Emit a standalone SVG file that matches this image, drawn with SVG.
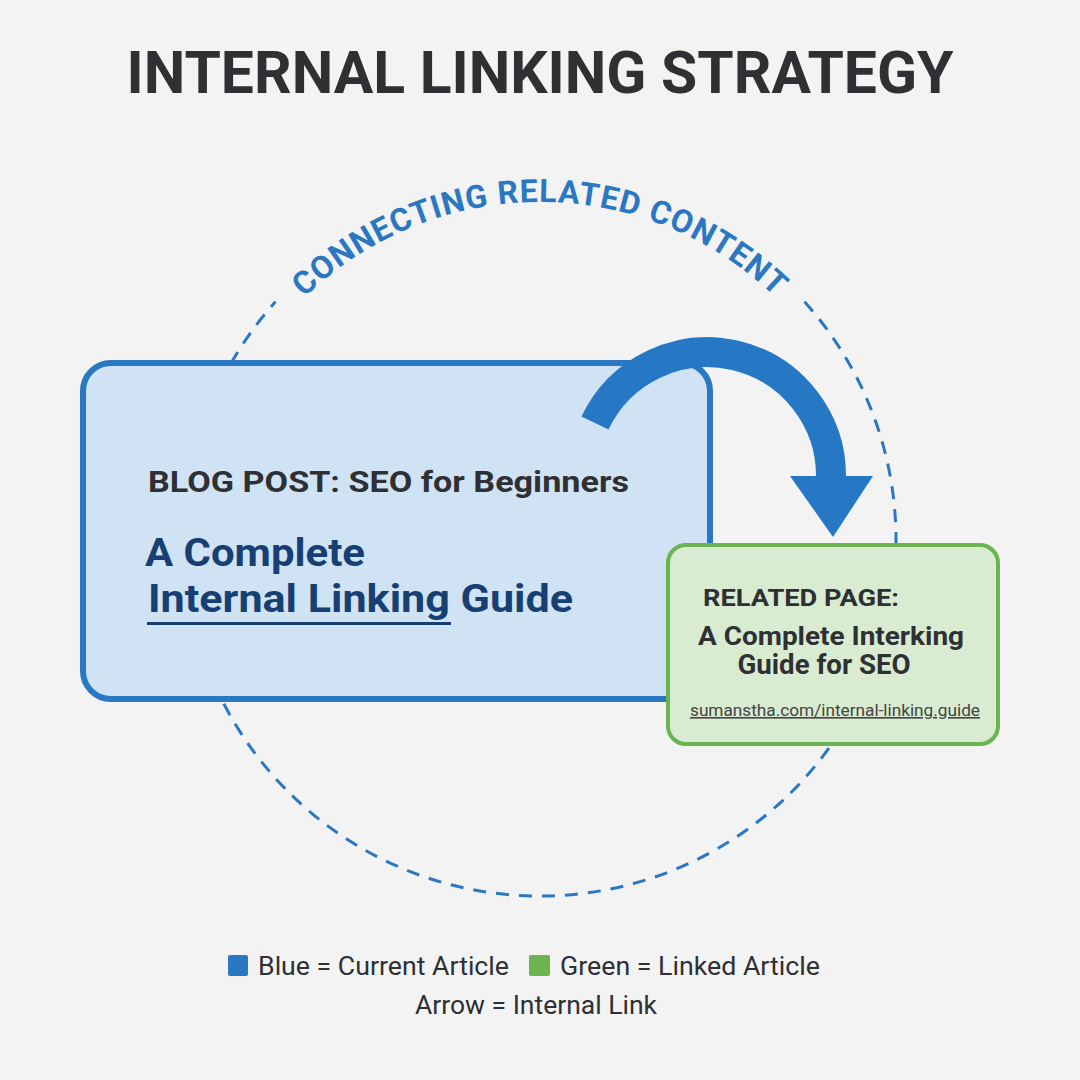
<svg xmlns="http://www.w3.org/2000/svg" width="1080" height="1080" viewBox="0 0 1080 1080">
<style>
.t{font-family:Roboto,"Liberation Sans",sans-serif}
.b{font-weight:700}
.dark{fill:#2e3033}
.navy{fill:#173f72}
.blue{fill:#2a78c2}
</style>
<defs>
<path id="textArc" d="M 202 540 A 338 338 0 0 1 878 540"/>
</defs>
<rect width="1080" height="1080" fill="#f3f3f3"/>
<text class="t b dark" x="540" y="93" font-size="60" text-anchor="middle" textLength="827" lengthAdjust="spacingAndGlyphs">INTERNAL LINKING STRATEGY</text>

<g id="circle">
<path d="M 804.5 301.8 A 356 356 0 1 1 275.5 301.8" fill="none" stroke="#2a78c2" stroke-width="3" stroke-dasharray="13 10"/>
<text class="t b blue" font-size="32" letter-spacing="1"><textPath href="#textArc" startOffset="50%" text-anchor="middle">CONNECTING RELATED CONTENT</textPath></text>
</g>

<g id="current-article">
<rect x="83" y="363" width="627" height="336" rx="28" fill="#cfe3f5" stroke="#2a78c2" stroke-width="6"/>
<text class="t b dark" x="148" y="492" font-size="30" textLength="481" lengthAdjust="spacingAndGlyphs">BLOG POST: SEO for Beginners</text>
<text class="t b navy" x="145" y="566" font-size="38" textLength="220" lengthAdjust="spacingAndGlyphs">A Complete</text>
<text class="t b navy" x="148" y="612" font-size="38" textLength="425" lengthAdjust="spacingAndGlyphs">Internal Linking Guide</text>
<rect x="147" y="622" width="304" height="3" fill="#173f72"/>
</g>

<g id="connectors">
<path d="M 595 423 A 124 124 0 0 1 831 478" fill="none" stroke="#2677c4" stroke-width="30"/>
<polygon points="790,476 873,476 833,537" fill="#2677c4"/>
</g>

<g id="linked-article">
<rect x="668" y="545" width="330" height="199" rx="18" fill="#d9ecd2" stroke="#6ab552" stroke-width="4"/>
<text class="t b dark" x="703" y="606" font-size="24" textLength="196" lengthAdjust="spacingAndGlyphs">RELATED PAGE:</text>
<text class="t b dark" x="831" y="645" font-size="26" text-anchor="middle" textLength="266" lengthAdjust="spacingAndGlyphs">A Complete Interking</text>
<text class="t b dark" x="824" y="674" font-size="27" text-anchor="middle" textLength="173" lengthAdjust="spacingAndGlyphs">Guide for SEO</text>
<text class="t" x="690" y="716" font-size="16" fill="#444" text-decoration="underline" textLength="290" lengthAdjust="spacingAndGlyphs">sumanstha.com/internal-linking.guide</text>
</g>

<g id="legend">
<rect x="228" y="955" width="20" height="21" rx="2" fill="#2a78c2"/>
<text class="t dark" x="258" y="975" font-size="25" textLength="251" lengthAdjust="spacingAndGlyphs">Blue = Current Article</text>
<rect x="529" y="955" width="21" height="21" rx="2" fill="#6ab552"/>
<text class="t dark" x="560" y="975" font-size="25" textLength="260" lengthAdjust="spacingAndGlyphs">Green = Linked Article</text>
<text class="t dark" x="536" y="1014" font-size="25" text-anchor="middle" textLength="242" lengthAdjust="spacingAndGlyphs">Arrow = Internal Link</text>
</g>
</svg>
